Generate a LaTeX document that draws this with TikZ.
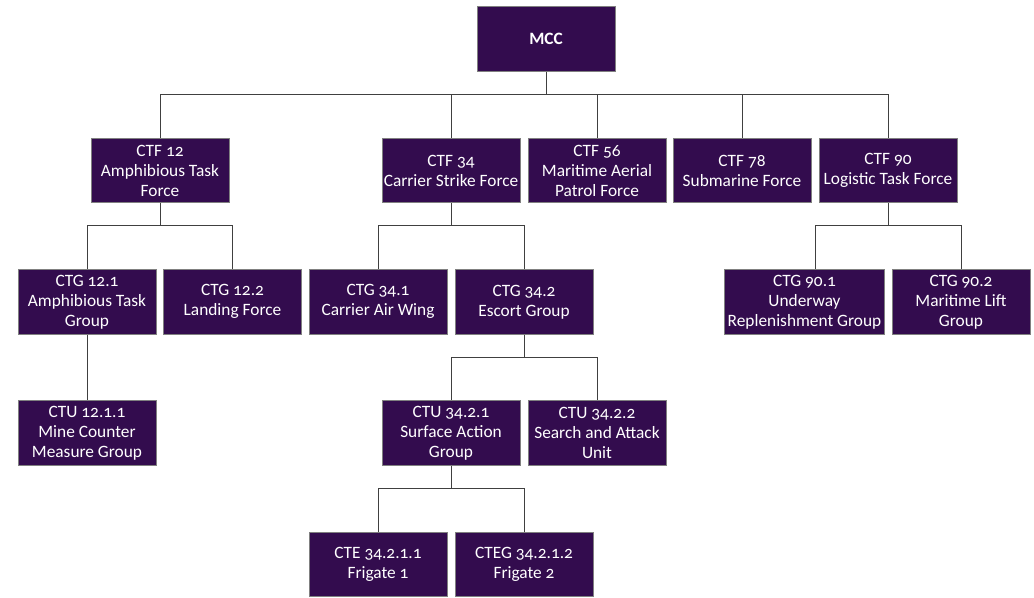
\documentclass[tikz,border=0pt]{standalone}
\usepackage{fontspec}
\setmainfont{Carlito}[Numbers=OldStyle]
\usetikzlibrary{calc}

\definecolor{unitfill}{RGB}{51,12,78}
\definecolor{unitdraw}{RGB}{128,128,128}
\definecolor{linkdraw}{RGB}{64,64,64}

\tikzset{every picture/.style={line width=0.75pt}}
\tikzset{
	unit/.style={draw=unitdraw, fill=unitfill, text=white, inner sep=0pt,
		minimum width=103.5pt, minimum height=48.4pt, align=center,
		font=\fontsize{13}{15}\selectfont},
	wideunit/.style={unit, minimum width=119.3pt},
	link/.style={draw=linkdraw}}

\begin{document}
\begin{tikzpicture}[x=0.75pt,y=0.75pt,yscale=-1,xscale=1]
	\useasboundingbox (0,0) rectangle (1034,597);

	%Shape: Rectangle [top]
	\node[unit, minimum height=48.8pt, font=\fontsize{13}{15}\selectfont\bfseries] (mcc) at (546,39.2) {MCC};

	%Shape: Rectangle [task forces]
	\node[unit] (ctf12) at (160,170.5) {CTF 12\\Amphibious Task\\Force};
	\node[unit] (ctf34) at (451,170.5) {CTF 34\\Carrier Strike Force};
	\node[unit] (ctf56) at (597,170.5) {CTF 56\\Maritime Aerial\\Patrol Force};
	\node[unit] (ctf78) at (742,170.5) {CTF 78\\Submarine Force};
	\node[unit] (ctf90) at (888,170.5) {CTF 90\\Logistic Task Force};

	%Shape: Rectangle [task groups]
	\node[unit] (ctg121) at (87,301.8) {CTG 12.1\\Amphibious Task\\Group};
	\node[unit] (ctg122) at (232.5,301.8) {CTG 12.2\\Landing Force};
	\node[unit] (ctg341) at (378,301.8) {CTG 34.1\\Carrier Air Wing};
	\node[unit] (ctg342) at (524,301.8) {CTG 34.2\\Escort Group};
	\node[wideunit] (ctg901) at (804.5,301.8) {CTG 90.1\\Underway\\Replenishment Group};
	\node[unit] (ctg902) at (961,301.8) {CTG 90.2\\Maritime Lift\\Group};

	%Shape: Rectangle [task units]
	\node[unit] (ctu1211) at (87,433.2) {CTU 12.1.1\\Mine Counter\\Measure Group};
	\node[unit] (ctu3421) at (451,433.2) {CTU 34.2.1\\Surface Action\\Group};
	\node[unit] (ctu3422) at (597,433.2) {CTU 34.2.2\\Search and Attack\\Unit};

	%Shape: Rectangle [task elements]
	\node[unit] (cte34211) at (378,564.4) {CTE 34.2.1.1\\Frigate 1};
	\node[unit] (cte34212) at (524,564.4) {CTEG 34.2.1.2\\Frigate 2};

	% Connectors
	\foreach \child in {ctf12,ctf34,ctf56,ctf78,ctf90}
		\draw[link] (mcc.south) -- ++(0,22.6) -| (\child.north);
	\foreach \child in {ctg121,ctg122}
		\draw[link] (ctf12.south) -- ++(0,22.6) -| (\child.north);
	\foreach \child in {ctg341,ctg342}
		\draw[link] (ctf34.south) -- ++(0,22.6) -| (\child.north);
	\draw[link] (ctf90.south) -- ++(0,22.6) -| ([xshift=8.4pt]ctg901.north);
	\draw[link] (ctf90.south) -- ++(0,22.6) -| (ctg902.north);
	\draw[link] (ctg121.south) -- (ctu1211.north);
	\foreach \child in {ctu3421,ctu3422}
		\draw[link] (ctg342.south) -- ++(0,22.6) -| (\child.north);
	\foreach \child in {cte34211,cte34212}
		\draw[link] (ctu3421.south) -- ++(0,22.6) -| (\child.north);

\end{tikzpicture}
\end{document}
